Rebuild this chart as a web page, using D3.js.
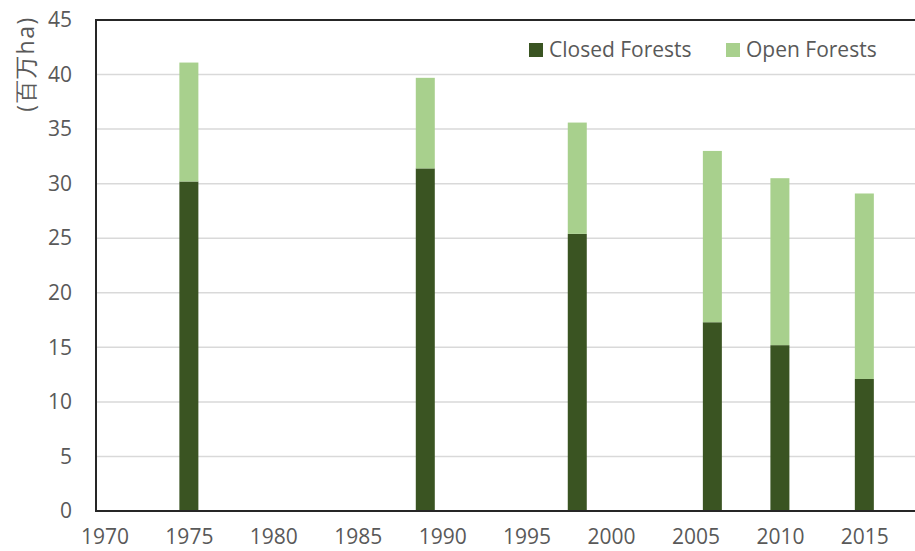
<!DOCTYPE html>
<html><head><meta charset="utf-8">
<script src="https://cdn.jsdelivr.net/npm/d3@7"></script>
<style>body{margin:0;background:#fff}svg{display:block}text{font-family:"Open Sans",sans-serif;fill:#595959}</style>
</head><body>
<svg id="c" width="915" height="551"></svg>
<script>
const years = [1975, 1989, 1998, 2006, 2010, 2015];
const closedForests = [30.2, 31.4, 25.4, 17.3, 15.2, 12.1];
const openForests = [10.9, 8.3, 10.2, 15.7, 15.3, 17.0];
const seriesNames = ["Closed Forests", "Open Forests"];
const seriesColors = ["#3a5422", "#a8d08d"];
const xTicks = [1970, 1975, 1980, 1985, 1990, 1995, 2000, 2005, 2010, 2015];
const yTicks = [0, 5, 10, 15, 20, 25, 30, 35, 40, 45];
const yLabel = "(百万ha)";

const svg = d3.select("#c");
const L = 96, R = 915, T = 20, B = 511;
const x = d3.scaleLinear().domain([1969.5, 2018]).range([L, R]);
const y = d3.scaleLinear().domain([0, 45]).range([B, T]);

// gridlines
svg.append("g").selectAll("line").data(yTicks.filter(d => d > 0 && d < 45)).join("line")
  .attr("x1", L).attr("x2", R).attr("y1", d => y(d)).attr("y2", d => y(d))
  .attr("stroke", "#d9d9d9").attr("stroke-width", 1.5);

// stacked data
const data = years.map((yr, i) => ({year: yr, closed: closedForests[i], open: openForests[i]}));
const stack = d3.stack().keys(["closed", "open"])(data);
const bw = 19;
svg.append("g").selectAll("g").data(stack).join("g")
  .attr("fill", (d, i) => seriesColors[i])
  .selectAll("rect").data(d => d).join("rect")
  .attr("x", d => x(d.data.year) - bw / 2).attr("width", bw)
  .attr("y", d => y(d[1])).attr("height", d => y(d[0]) - y(d[1]));

// axes
const yAxis = d3.axisLeft(y).tickValues(yTicks).tickSize(0).tickPadding(24);
const gy = svg.append("g").attr("transform", `translate(${L},0)`).call(yAxis);
gy.select(".domain").remove();
gy.selectAll("text").attr("font-size", 21).attr("font-family", "Open Sans").attr("fill", "#595959");

const xAxis = d3.axisBottom(x).tickValues(xTicks).tickSize(0).tickPadding(18.5).tickFormat(d3.format("d"));
const gx = svg.append("g").attr("transform", `translate(0,${B})`).call(xAxis);
gx.select(".domain").remove();
gx.selectAll("text").attr("font-size", 21).attr("font-family", "Open Sans").attr("fill", "#595959");

// frame lines (left, top, bottom)
svg.append("path").attr("d", `M${R},${T}H${L}V${B}H${R}`)
  .attr("fill", "none").attr("stroke", "#262626").attr("stroke-width", 2);

// y label
svg.append("text").attr("transform", `translate(34,64) rotate(-90)`)
  .attr("text-anchor", "middle").attr("font-size", 23).attr("letter-spacing", 1.5).text(yLabel);

// legend
const legX = [529, 726];
const lg = svg.append("g").selectAll("g").data(seriesNames).join("g")
  .attr("transform", (d, i) => `translate(${legX[i]},42)`);
lg.append("rect").attr("width", 14).attr("height", 14).attr("y", 1).attr("fill", (d, i) => seriesColors[i]);
lg.append("text").attr("x", 20).attr("y", 14.5).attr("font-size", 21).text(d => d);
</script>
</body></html>
